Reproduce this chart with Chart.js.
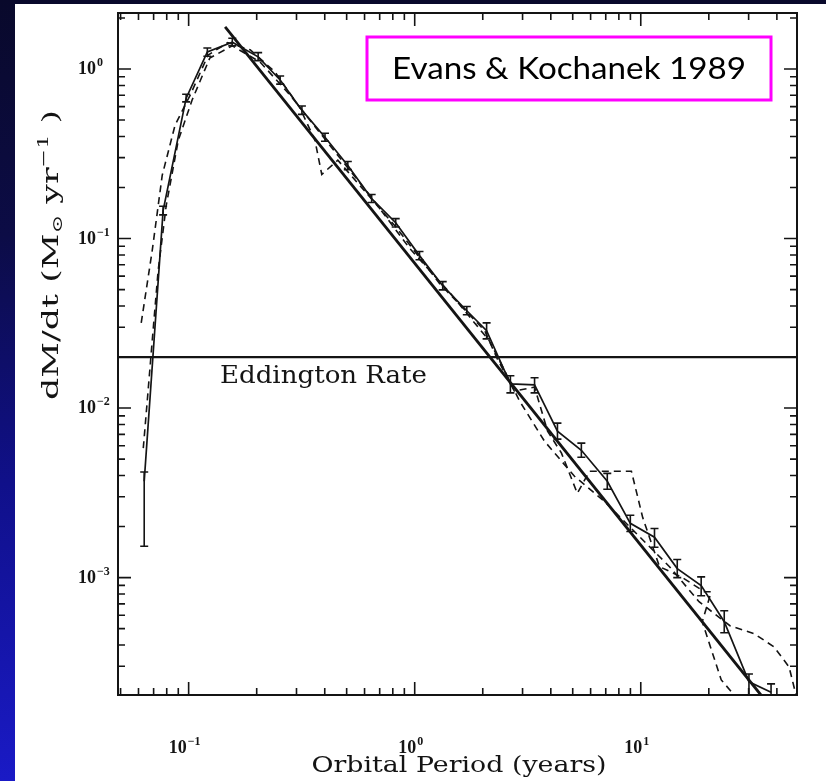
<!DOCTYPE html>
<html>
<head>
<meta charset="utf-8">
<script src="https://cdn.jsdelivr.net/npm/chart.js"></script>
<style>
  html, body { margin: 0; padding: 0; }
  body {
    width: 826px; height: 781px; overflow: hidden; position: relative;
    background: linear-gradient(to bottom, #09092b 0%, #0c0c46 30%, #10108a 62%, #1a1ac6 100%);
  }
  #paper { position: absolute; left: 15px; top: 4px; right: 0; bottom: 0; background: #fff; }
  #chart { position: absolute; left: 0; top: 0; }
</style>
</head>
<body>
<div id="paper"></div>
<canvas id="chart" width="826" height="781"></canvas>
<script>
// axis ranges (years, Msun/yr)
const X_MIN = 0.0487, X_MAX = 49.1;
const Y_MIN = 2.03e-4, Y_MAX = 2.14;

const xMajorTicks = [0.1, 1, 10];
const xTickExponents = ['\u22121', '0', '1'];
const yMajorTicks = [1, 0.1, 0.01, 0.001];
const yTickExponents = ['0', '\u22121', '\u22122', '\u22123'];

const eddingtonRate = 0.02;

// analytic P^-5/3 fall-back line
const fitPeriod = [0.145, 34.0];
const fitRate = [1.77, 2.03e-4];

// run with error bars (solid)
const periodRun1 = [0.0636, 0.0771, 0.0975, 0.121, 0.156, 0.203, 0.254, 0.317, 0.401, 0.506, 0.645, 0.824, 1.05, 1.33,
  1.70, 2.08, 2.65, 3.39, 4.28, 5.46, 7.11, 8.99, 11.5, 14.5, 18.5, 23.4, 30.1, 37.7];
const rateRun1 = [0.0037, 0.146, 0.673, 1.26, 1.44, 1.18, 0.861, 0.572, 0.396, 0.270, 0.172, 0.124, 0.0793, 0.0527,
  0.0375, 0.0286, 0.0139, 0.0137, 0.00731, 0.00564, 0.0037, 0.00209, 0.00173, 0.00113, 0.000897, 0.000549, 0.000243, 0.000211];
const rateRun1Lo = [0.00153, 0.138, 0.64, 1.19, 1.37, 1.12, 0.815, 0.54, 0.375, 0.255, 0.163, 0.117, 0.075, 0.0498,
  0.0355, 0.0256, 0.0123, 0.0123, 0.00656, 0.00513, 0.00332, 0.00187, 0.00151, 0.00100, 0.000782, 0.000473, 0.000178, 0.00018];
const rateRun1Hi = [0.0042, 0.155, 0.71, 1.33, 1.52, 1.25, 0.91, 0.605, 0.418, 0.285, 0.182, 0.131, 0.0838, 0.0557,
  0.0397, 0.0318, 0.0155, 0.0151, 0.00815, 0.00621, 0.00412, 0.00233, 0.00195, 0.00128, 0.00101, 0.000638, 0.00027, 0.000236];

// dashed runs
const periodRun2 = [0.0617, 0.0690, 0.0764, 0.0871, 0.1016, 0.122, 0.149, 0.187, 0.241, 0.311, 0.362, 0.388, 0.457,
  0.571, 0.817, 1.29, 2.04, 2.32, 2.76, 3.39, 3.87, 4.46, 5.24, 5.93, 9.09, 10.2, 12.1, 15.1, 19.1, 20.5, 18.7, 22.7, 25.9];
const rateRun2 = [0.0318, 0.0849, 0.236, 0.467, 0.702, 1.21, 1.43, 1.30, 0.960, 0.588, 0.380, 0.239, 0.290,
  0.206, 0.119, 0.0542, 0.0286, 0.0195, 0.0126, 0.0133, 0.00731, 0.00542, 0.00314, 0.00424, 0.00424, 0.00226, 0.00116,
  0.00101, 0.000826, 0.000826, 0.000549, 0.000249, 0.000203];

const periodRun3 = [0.0630, 0.0656, 0.0690, 0.0733, 0.0796, 0.090, 0.1036, 0.124, 0.156, 0.207, 0.281, 0.421, 0.633,
  0.951, 1.43, 2.14, 2.50, 2.91, 3.75, 5.09, 6.90, 9.85, 13.4, 18.1, 24.8, 31.7, 38.8, 45.3, 48.6];
const rateRun3 = [0.0058, 0.0110, 0.0249, 0.0647, 0.157, 0.380, 0.656, 1.16, 1.37, 1.10, 0.702, 0.355, 0.180,
  0.0873, 0.0479, 0.0249, 0.0166, 0.0110, 0.00638, 0.00396, 0.00282, 0.00175, 0.00116, 0.000721, 0.00052, 0.000467,
  0.000391, 0.000297, 0.000203];

const INK = '#141414';

function pts(xs, ys) {
  return xs.map((x, i) => ({ x: x, y: ys[i] }));
}

function line(data, width, dash) {
  return {
    data: data, showLine: true, fill: false, tension: 0,
    borderColor: INK, borderWidth: width, borderDash: dash || [],
    pointRadius: 0, pointHoverRadius: 0
  };
}

// draw a list of [text, font, dy] pieces, centred on (cx, y), squeezed to a width
function fitText(ctx, parts, cx, y, width) {
  let w = 0;
  parts.forEach(p => { ctx.font = p[1]; w += ctx.measureText(p[0]).width; });
  ctx.save();
  ctx.translate(cx, y);
  ctx.scale(width / w, 1);
  let px = -w / 2;
  parts.forEach(p => {
    ctx.font = p[1];
    ctx.fillText(p[0], px, p[2]);
    px += ctx.measureText(p[0]).width;
  });
  ctx.restore();
}

function powerLabel(ctx, exp, x, y, align) {
  const big = 'bold 18px "Liberation Serif"', small = 'bold 12px "Liberation Serif"';
  ctx.font = big;
  const w1 = ctx.measureText('10').width;
  ctx.font = small;
  const w2 = ctx.measureText(exp).width;
  let sx = align === 'center' ? x - (w1 + w2 + 1) / 2 : x;
  ctx.font = big;
  ctx.fillText('10', sx, y);
  ctx.font = small;
  ctx.fillText(exp, sx + w1 + 1, y - 8);
}

function logTicks(min, max) {
  const out = [];
  for (let d = -4; d <= 1; d++) {
    for (let m = 1; m <= 9; m++) {
      const v = m * Math.pow(10, d);
      if (v >= min && v <= max) out.push({ v: v, major: m === 1 });
    }
  }
  return out;
}

const paperPlugin = {
  id: 'paper',
  afterDatasetsDraw(chart) {
    const ctx = chart.ctx, a = chart.chartArea;
    const x = chart.scales.x, y = chart.scales.y;

    // error bars
    ctx.save();
    ctx.beginPath();
    ctx.rect(a.left, a.top, a.right - a.left, a.bottom - a.top);
    ctx.clip();
    ctx.strokeStyle = INK;
    ctx.lineWidth = 1.6;
    periodRun1.forEach((p, i) => {
      const px = x.getPixelForValue(p);
      const lo = y.getPixelForValue(rateRun1Lo[i]);
      const hi = y.getPixelForValue(rateRun1Hi[i]);
      ctx.beginPath();
      ctx.moveTo(px, lo); ctx.lineTo(px, hi);
      ctx.moveTo(px - 4, lo); ctx.lineTo(px + 4, lo);
      ctx.moveTo(px - 4, hi); ctx.lineTo(px + 4, hi);
      ctx.stroke();
    });
    ctx.restore();

    ctx.save();
    // frame
    ctx.strokeStyle = INK;
    ctx.lineWidth = 2;
    ctx.strokeRect(a.left, a.top, a.right - a.left, a.bottom - a.top);

    // inward ticks on all four sides
    ctx.lineWidth = 1.6;
    ctx.beginPath();
    logTicks(X_MIN, X_MAX).forEach(t => {
      const px = x.getPixelForValue(t.v), len = t.major ? 13 : 7;
      ctx.moveTo(px, a.bottom); ctx.lineTo(px, a.bottom - len);
      ctx.moveTo(px, a.top); ctx.lineTo(px, a.top + len);
    });
    logTicks(Y_MIN, Y_MAX).forEach(t => {
      const py = y.getPixelForValue(t.v), len = t.major ? 13 : 7;
      ctx.moveTo(a.left, py); ctx.lineTo(a.left + len, py);
      ctx.moveTo(a.right, py); ctx.lineTo(a.right - len, py);
    });
    ctx.stroke();

    // tick labels
    ctx.fillStyle = INK;
    ctx.textBaseline = 'alphabetic';
    ctx.textAlign = 'left';
    xMajorTicks.forEach((v, i) => powerLabel(ctx, xTickExponents[i], x.getPixelForValue(v) - 4, a.bottom + 58, 'center'));
    yMajorTicks.forEach((v, i) => powerLabel(ctx, yTickExponents[i], a.left - 40, y.getPixelForValue(v) + 5, 'left'));

    // axis titles
    const serif = '"DejaVu Serif"';
    fitText(ctx, [['Orbital Period (years)', '23px ' + serif, 0]], 459, 772, 295);
    ctx.save();
    ctx.translate(58, 255);
    ctx.rotate(-Math.PI / 2);
    fitText(ctx, [
      ['dM/dt (M', '22px ' + serif, 0],
      ['\u2299', '14px ' + serif, 4],
      [' yr', '22px ' + serif, 0],
      ['\u22121', '14px ' + serif, -10],
      [' )', '22px ' + serif, 0]
    ], 0, 0, 290);
    ctx.restore();

    // Eddington label
    fitText(ctx, [['Eddington Rate', '24px ' + serif, 0]], 323.5, 383, 207);

    // citation box
    ctx.fillStyle = '#fff';
    ctx.fillRect(367, 37, 404, 63);
    ctx.strokeStyle = '#ff00ff';
    ctx.lineWidth = 3;
    ctx.strokeRect(367, 37, 404, 63);
    ctx.fillStyle = '#000';
    fitText(ctx, [['Evans & Kochanek 1989', '30px Lato', 0]], 569, 79, 354);
    ctx.restore();
  }
};

new Chart(document.getElementById('chart'), {
  type: 'scatter',
  data: {
    datasets: [
      line(pts([X_MIN, X_MAX], [eddingtonRate, eddingtonRate]), 2.2),
      line(pts(fitPeriod, fitRate), 2.8),
      line(pts(periodRun1, rateRun1), 1.7),
      line(pts(periodRun2, rateRun2), 1.6, [7, 5]),
      line(pts(periodRun3, rateRun3), 1.6, [7, 5])
    ]
  },
  options: {
    responsive: false,
    animation: false,
    layout: { padding: { top: 13, right: 29, left: 0, bottom: 0 } },
    plugins: { legend: { display: false }, tooltip: { enabled: false } },
    scales: {
      x: {
        type: 'logarithmic', min: X_MIN, max: X_MAX,
        grid: { display: false }, border: { display: false }, ticks: { display: false },
        afterFit: s => { s.height = 86; }
      },
      y: {
        type: 'logarithmic', min: Y_MIN, max: Y_MAX,
        grid: { display: false }, border: { display: false }, ticks: { display: false },
        afterFit: s => { s.width = 118; }
      }
    }
  },
  plugins: [paperPlugin]
});
</script>
</body>
</html>
